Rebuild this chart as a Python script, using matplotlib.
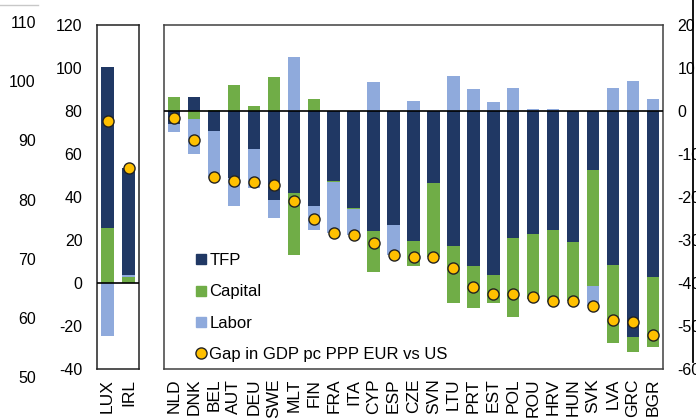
import matplotlib
matplotlib.use("Agg")
import matplotlib.pyplot as plt
from matplotlib.lines import Line2D
import numpy as np

plt.rcParams['font.family'] = ['Liberation Sans', 'DejaVu Sans']
plt.rcParams['axes.unicode_minus'] = False

# ---------------- data ----------------
countries_left = ["LUX", "IRL"]
tfp_left = [74.9, 49.8]
capital_left = [25.4, 3.0]
labor_left = [-24.5, 0.7]
gap_left = [75.5, 53.5]

countries_right = ["NLD", "DNK", "BEL", "AUT", "DEU", "SWE", "MLT", "FIN", "FRA", "ITA",
                   "CYP", "ESP", "CZE", "SVN", "LTU", "PRT", "EST", "POL", "ROU", "HRV",
                   "HUN", "SVK", "LVA", "GRC", "BGR"]
tfp_right = [-3.0, 3.3, -4.7, -15.5, -8.8, -20.7, -19.1, -22.2, -16.2, -22.5,
             -27.9, -26.5, -30.2, -16.7, -31.3, -36.0, -38.2, -29.6, -28.6, -27.7,
             -30.4, -13.7, -35.8, -52.6, -38.5]
capital_right = [3.3, -1.9, 0.2, 6.0, 1.2, 7.8, -14.4, 2.8, -0.3, -0.4,
                 -9.5, 0.0, -5.8, -17.3, -13.4, -9.7, -6.4, -18.2, -15.2, -16.8,
                 -13.8, -26.9, -18.1, -3.5, -16.3]
labor_right = [-1.9, -8.1, -10.8, -6.7, -9.0, -4.3, 12.5, -5.5, -11.8, -5.9,
               6.8, -7.0, 2.3, 0.0, 8.1, 5.0, 2.0, 5.3, 0.5, 0.4,
               0.0, -4.7, 5.3, 7.0, 2.8]
gap_right = [-1.7, -6.7, -15.3, -16.2, -16.5, -17.3, -20.9, -25.1, -28.3, -28.8,
             -30.8, -33.5, -33.9, -34.0, -36.4, -40.9, -42.6, -42.6, -43.3, -44.1,
             -44.2, -45.3, -48.6, -49.1, -52.1]

outer_ticks = [50, 60, 70, 80, 90, 100, 110]
left_ticks = [-40, -20, 0, 20, 40, 60, 80, 100, 120]
right_ticks = [-60, -50, -40, -30, -20, -10, 0, 10, 20]

C_TFP = "#203864"
C_CAP = "#70AD47"
C_LAB = "#8FAADC"
C_DOT = "#FFC000"
FS = 11.5
FS_X = 12.5
FS_LEG = 12

W, H = 696, 419
fig = plt.figure(figsize=(W / 100, H / 100), dpi=100)


def px_axes(x0, y0, x1, y1):
    return fig.add_axes([x0 / W, 1 - y1 / H, (x1 - x0) / W, (y1 - y0) / H])


def stacked(ax, series, width):
    n = len(series[0][0])
    x = np.arange(n)
    pos = np.zeros(n)
    neg = np.zeros(n)
    for vals, color in series:
        v = np.asarray(vals, dtype=float)
        base = np.where(v >= 0, pos, neg)
        ax.bar(x, v, width, bottom=base, color=color, edgecolor='none', zorder=2)
        pos = pos + np.where(v >= 0, v, 0)
        neg = neg + np.where(v < 0, v, 0)


def style_box(ax, color):
    for s in ax.spines.values():
        s.set_color(color)
        s.set_linewidth(1.1)


# ---------- outer left axis (50-110) ----------
axo = px_axes(40, 22, 41, 377)
axo.set_ylim(50, 110)
axo.set_yticks(outer_ticks)
axo.set_yticklabels([str(t) for t in outer_ticks], fontsize=FS)
axo.set_xticks([])
for s in axo.spines.values():
    s.set_visible(False)
axo.tick_params(axis='y', length=0, pad=3)
axo.patch.set_alpha(0)

# ---------- left panel ----------
axl = px_axes(97, 25, 139, 369)
stacked(axl, [(capital_left, C_CAP), (labor_left, C_LAB), (tfp_left, C_TFP)], 0.62)
axl.plot(np.arange(len(gap_left)), gap_left, 'o', ms=8, mfc=C_DOT, mec='#222222',
         mew=1.0, zorder=4)
axl.axhline(0, color='black', lw=1.2, zorder=3)
axl.set_xlim(-0.5, len(countries_left) - 0.5)
axl.set_ylim(-40, 120)
axl.set_yticks(left_ticks)
axl.set_yticklabels([str(t) for t in left_ticks], fontsize=FS)
axl.set_xticks(np.arange(len(countries_left)))
axl.set_xticklabels(countries_left, rotation=90, fontsize=FS_X, va='top')
axl.tick_params(axis='y', length=0, pad=10.5)
axl.tick_params(axis='x', length=0, pad=7)
style_box(axl, '#222222')

# ---------- right panel ----------
axr = px_axes(164, 25, 663, 369)
stacked(axr, [(tfp_right, C_TFP), (capital_right, C_CAP), (labor_right, C_LAB)], 0.62)
axr.plot(np.arange(len(gap_right)), gap_right, 'o', ms=8, mfc=C_DOT, mec='#222222',
         mew=1.0, zorder=4)
axr.axhline(0, color='black', lw=1.2, zorder=3)
axr.set_xlim(-0.5, len(countries_right) - 0.5)
axr.set_ylim(-60, 20)
axr.yaxis.tick_right()
axr.set_yticks(right_ticks)
axr.set_yticklabels([str(t) for t in right_ticks], fontsize=FS)
axr.set_xticks(np.arange(len(countries_right)))
axr.set_xticklabels(countries_right, rotation=90, fontsize=FS_X, va='top')
axr.tick_params(axis='y', length=0, pad=10.5)
axr.tick_params(axis='x', length=0, pad=7)
style_box(axr, '#404040')

handles = [
    Line2D([], [], ls='none', marker='s', ms=6.5, mfc=C_TFP, mec=C_TFP),
    Line2D([], [], ls='none', marker='s', ms=6.5, mfc=C_CAP, mec=C_CAP),
    Line2D([], [], ls='none', marker='s', ms=6.5, mfc=C_LAB, mec=C_LAB),
    Line2D([], [], ls='none', marker='o', ms=8, mfc=C_DOT, mec='#222222', mew=1.0),
]
labels = ["TFP", "Capital", "Labor", "Gap in GDP pc PPP EUR vs US"]
fig.legend(handles, labels, loc='upper left', bbox_to_anchor=(195 / W, 1 - 253 / H),
           frameon=False, fontsize=FS_LEG, handlelength=0.7, handletextpad=0.15,
           labelspacing=0.98, borderpad=0, borderaxespad=0)

# decorative frame lines from the original page
fig.add_artist(Line2D([693 / W, 693 / W], [1, 1 - 362 / H], color='black', lw=1.3))
fig.add_artist(Line2D([0, 38 / W], [1 - 5 / H, 1 - 5 / H], color='#c8c8c8', lw=1))

fig.savefig("out.png", dpi=100)
